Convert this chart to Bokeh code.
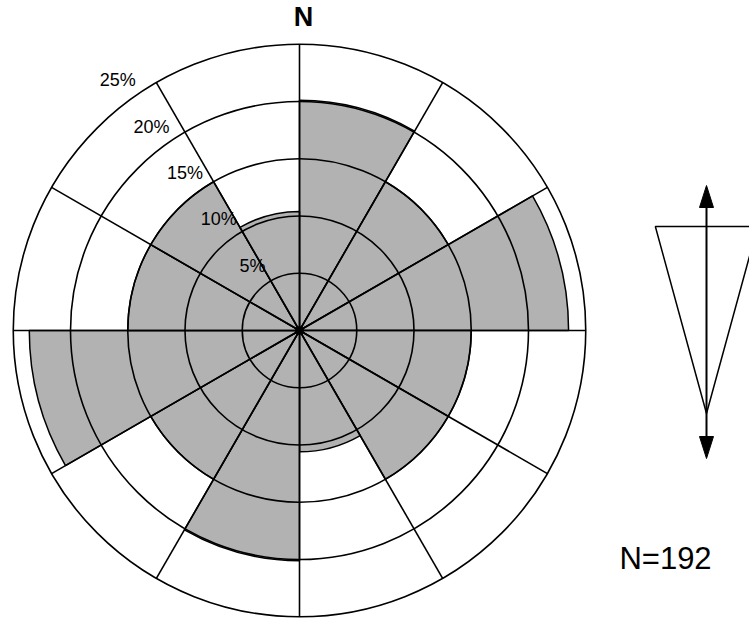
import numpy as np
from bokeh.plotting import figure
from bokeh.models import Range1d
from bokeh.core.properties import value
from bokeh.embed import file_html
from bokeh.resources import INLINE

# Rose diagram of axial orientations (12 sectors of 30 degrees, bearings clockwise from N)
sector_start = [0, 30, 60, 90, 120, 150, 180, 210, 240, 270, 300, 330]
sector_pct = [20.1, 15.0, 23.5, 15.0, 15.0, 10.6, 20.1, 15.0, 23.6, 15.0, 15.0, 10.4]
ring_pct = [5, 10, 15, 20, 25]
ring_labels = ["5%", "10%", "15%", "20%", "25%"]
n_obs = 192
mean_axis_deg = 0.0      # mean orientation (axial, N-S)
cone_half_deg = 15.3     # half-width of the confidence cone

SECTOR_WIDTH = 30
PX = 11.45               # pixels per percent
CX, CY = 299, 330        # rose centre on the page, px
W, H = 749, 623

p = figure(width=W, height=H, output_backend="svg", toolbar_location=None,
           x_range=Range1d(-CX / PX, (W - CX) / PX),
           y_range=Range1d(-(H - CY) / PX, CY / PX),
           x_axis_type=None, y_axis_type=None, min_border=0)
p.grid.visible = False
p.outline_line_color = None
p.background_fill_color = "white"

# filled sectors: compass bearing b -> math angle 90 - b
n = len(sector_start)
starts = [np.radians(90 - (b + SECTOR_WIDTH)) for b in sector_start]
ends = [np.radians(90 - b) for b in sector_start]
p.wedge(x=[0] * n, y=[0] * n, radius=sector_pct, start_angle=starts, end_angle=ends,
        direction="anticlock",
        fill_color="#b2b2b2", line_color="black", line_width=1.5)

# percentage rings
p.circle(x=[0] * len(ring_pct), y=[0] * len(ring_pct), radius=ring_pct,
         fill_color=None, line_color="black", line_width=1.6)

# spokes to the outer ring
rmax = max(ring_pct)
b = np.radians(sector_start)
p.segment(x0=[0] * n, y0=[0] * n, x1=rmax * np.sin(b), y1=rmax * np.cos(b),
          line_color="black", line_width=1.6)
p.scatter(x=[0], y=[0], size=8, color="black")

# ring labels along the NNW spoke
lab_b = np.radians(-36)
lab_r = np.array(ring_pct) + 2.0
p.text(x=lab_r * np.sin(lab_b), y=lab_r * np.cos(lab_b), text=ring_labels,
       text_font=value("Liberation Sans"), text_font_size="18px",
       text_align="center", text_baseline="middle", text_color="black")

# north marker
p.text(x=[0.35], y=[(CY - 16) / PX], text=["N"],
       text_font=value("Liberation Sans"), text_font_size="27px", text_font_style="bold",
       text_align="center", text_baseline="middle", text_color="black")

# mean orientation symbol: confidence cone and double arrow
sym_x = (706 - CX) / PX
apex_y = (CY - 413) / PX
cone_len = 187 / PX
side = cone_len / np.cos(np.radians(cone_half_deg))
a1 = np.radians(mean_axis_deg - cone_half_deg)
a2 = np.radians(mean_axis_deg + cone_half_deg)
cone_x = [sym_x, sym_x + side * np.sin(a1), sym_x + side * np.sin(a2)]
cone_y = [apex_y, apex_y + side * np.cos(a1), apex_y + side * np.cos(a2)]
p.patch(x=cone_x, y=cone_y, fill_color=None, line_color="black", line_width=1.5)

arrow_top = (CY - 185) / PX
arrow_bot = (CY - 458) / PX
head_len = 22 / PX
head_half = 7 / PX
p.segment(x0=[sym_x], y0=[arrow_bot + head_len * 0.5], x1=[sym_x], y1=[arrow_top - head_len * 0.5],
          line_color="black", line_width=2)
p.patches(xs=[[sym_x, sym_x - head_half, sym_x + head_half],
              [sym_x, sym_x - head_half, sym_x + head_half]],
          ys=[[arrow_top, arrow_top - head_len, arrow_top - head_len],
              [arrow_bot, arrow_bot + head_len, arrow_bot + head_len]],
          fill_color="black", line_color="black")

p.text(x=[(665 - CX) / PX], y=[(CY - 558) / PX], text=[f"N={n_obs}"],
       text_font=value("Liberation Sans"), text_font_size="31px",
       text_align="center", text_baseline="middle", text_color="black")

open("out.html", "w").write(file_html(p, INLINE))
